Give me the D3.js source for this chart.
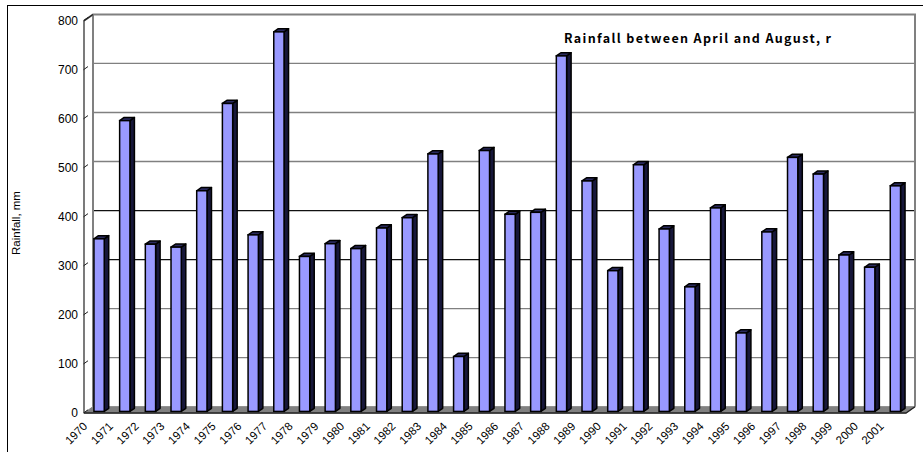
<!DOCTYPE html>
<html>
<head>
<meta charset="utf-8">
<script src="https://cdn.jsdelivr.net/npm/d3@7"></script>
<style>
  html, body { margin: 0; padding: 0; background: #fff; }
  svg { display: block; }
</style>
</head>
<body>
<svg id="chart" width="923" height="452"></svg>
<script>
// Rainfall between April and August, by year (mm)
const years = ["1970","1971","1972","1973","1974","1975","1976","1977","1978","1979",
               "1980","1981","1982","1983","1984","1985","1986","1987","1988","1989",
               "1990","1991","1992","1993","1994","1995","1996","1997","1998","1999",
               "2000","2001"];
const rainfall = [352, 593, 341, 335, 450, 628, 360, 774, 316, 342,
                  332, 374, 395, 525, 112, 532, 402, 406, 725, 470,
                  287, 503, 372, 254, 415, 160, 366, 518, 484, 319,
                  294, 460];
const yTicks = [0, 100, 200, 300, 400, 500, 600, 700, 800];
const titleText = "Rainfall between April and August, r";
const yTitle = "Rainfall, mm";

const svg = d3.select("#chart");

// front plane of the 3-D box
const x0 = 84, x1 = 906, yBase = 413, yTop = 20.7;
// depth offset from the front plane to the back wall
const D = { x: 9, y: -6.3 };

const x = d3.scaleBand().domain(years).range([x0, x1]).paddingInner(0.6).paddingOuter(0.3);
const y = d3.scaleLinear().domain([0, 800]).range([yBase, yTop]);

const barFront = { x: D.x * 0.25, y: D.y * 0.25 };
const barDepth = { x: D.x * 0.5, y: D.y * 0.5 };

// outer chart-area frame
svg.append("rect")
  .attr("x", 7.5).attr("y", 5.5).attr("width", 940).attr("height", 470)
  .attr("fill", "#fff").attr("stroke", "#000").attr("stroke-width", 1);

// back wall
const bx0 = x0 + D.x, bx1 = x1 + D.x;
svg.append("rect")
  .attr("x", bx0).attr("y", y(800) + D.y)
  .attr("width", bx1 - bx0).attr("height", y(0) - y(800))
  .attr("fill", "#fff");

// side wall
svg.append("path")
  .attr("d", `M${x0},${y(800)} L${bx0},${y(800) + D.y} L${bx0},${y(0) + D.y} L${x0},${y(0)} Z`)
  .attr("fill", "#fff");

// gridlines on the back wall
svg.append("g").selectAll("line")
  .data(yTicks.filter(t => t > 0 && t < 800))
  .join("line")
  .attr("x1", bx0).attr("x2", bx1)
  .attr("y1", d => y(d) + D.y).attr("y2", d => y(d) + D.y)
  .attr("stroke", d => (d === 300 || d === 400) ? "#111" : "#808080")
  .attr("stroke-width", 1.3);

// wall outline: top edge, back-left edge, right edge
svg.append("path")
  .attr("d", `M${x0},${y(800)} L${bx0},${y(800) + D.y} L${bx1},${y(800) + D.y} L${bx1},${y(0) + D.y}`)
  .attr("fill", "none").attr("stroke", "#808080").attr("stroke-width", 2);
svg.append("line")
  .attr("x1", bx0).attr("x2", bx0)
  .attr("y1", y(800) + D.y).attr("y2", y(0) + D.y)
  .attr("stroke", "#808080").attr("stroke-width", 2);

// floor
svg.append("path")
  .attr("d", `M${x0},${y(0)} L${bx0},${y(0) + D.y} L${bx1},${y(0) + D.y} L${x1},${y(0)} Z`)
  .attr("fill", "#808080").attr("stroke", "#808080").attr("stroke-width", 1);

// front value-axis line
svg.append("line")
  .attr("x1", x0).attr("x2", x0).attr("y1", y(800)).attr("y2", y(0))
  .attr("stroke", "#222").attr("stroke-width", 1.2);
svg.append("line")
  .attr("x1", x0).attr("x2", bx0).attr("y1", y(800)).attr("y2", y(800) + D.y)
  .attr("stroke", "#222").attr("stroke-width", 1.2);

// short diagonal tick marks
svg.append("g").selectAll("line")
  .data(yTicks)
  .join("line")
  .attr("x1", x0 - 0.5).attr("y1", d => y(d))
  .attr("x2", x0 + 4).attr("y2", d => y(d) - 3.2)
  .attr("stroke", "#222").attr("stroke-width", 1);

// bars
const bars = svg.append("g").selectAll("g")
  .data(years.map((yr, i) => ({ yr, v: rainfall[i] })))
  .join("g");

bars.each(function (d) {
  const g = d3.select(this);
  const l = x(d.yr) + barFront.x;
  const r = l + x.bandwidth();
  const t = y(d.v) + barFront.y;
  const b = y(0) + barFront.y;
  const dx = barDepth.x, dy = barDepth.y;
  // side face
  g.append("path")
    .attr("d", `M${r},${t} L${r + dx},${t + dy} L${r + dx},${b + dy} L${r},${b} Z`)
    .attr("fill", "#17173a").attr("stroke", "#000").attr("stroke-width", 1.5)
    .attr("stroke-linejoin", "round");
  // top face
  g.append("path")
    .attr("d", `M${l},${t} L${l + dx},${t + dy} L${r + dx},${t + dy} L${r},${t} Z`)
    .attr("fill", "#2a2a5e").attr("stroke", "#000").attr("stroke-width", 1.5)
    .attr("stroke-linejoin", "round");
  // front face
  g.append("rect")
    .attr("x", l).attr("y", t).attr("width", r - l).attr("height", b - t)
    .attr("fill", "#9999ff").attr("stroke", "#000").attr("stroke-width", 1.5);
});

// front edge of the floor
svg.append("path")
  .attr("d", `M${x0},${y(0)} L${x1},${y(0)} L${bx1},${y(0) + D.y}`)
  .attr("fill", "none").attr("stroke", "#222").attr("stroke-width", 1.3);

// value-axis labels
const yAxis = svg.append("g")
  .attr("transform", `translate(${x0},0)`)
  .call(d3.axisLeft(y).tickValues(yTicks).tickSize(0).tickPadding(6));
yAxis.select(".domain").remove();
yAxis.selectAll("text")
  .attr("font-family", "'Liberation Sans', Arial, sans-serif")
  .attr("font-size", 12).attr("fill", "#000");

// category labels, rotated
svg.append("g").selectAll("text")
  .data(years)
  .join("text")
  .attr("transform", d => `translate(${x(d) + barFront.x + x.bandwidth() / 2 - 11},427) rotate(-45)`)
  .attr("text-anchor", "end")
  .attr("font-family", "'Liberation Sans', Arial, sans-serif")
  .attr("font-size", 11.5)
  .attr("fill", "#000")
  .text(d => d);

// value-axis title
svg.append("text")
  .attr("transform", "translate(20,223) rotate(-90)")
  .attr("text-anchor", "middle")
  .attr("font-family", "'Liberation Sans', Arial, sans-serif")
  .attr("font-size", 11.5)
  .attr("fill", "#000")
  .text(yTitle);

// chart title
svg.append("text")
  .attr("x", 564).attr("y", 43)
  .attr("font-family", "'Noto Sans CJK JP', 'Liberation Sans', sans-serif")
  .attr("font-weight", "bold")
  .attr("font-size", 12.5)
  .attr("textLength", 267)
  .attr("lengthAdjust", "spacing")
  .attr("fill", "#000")
  .text(titleText);
</script>
</body>
</html>
